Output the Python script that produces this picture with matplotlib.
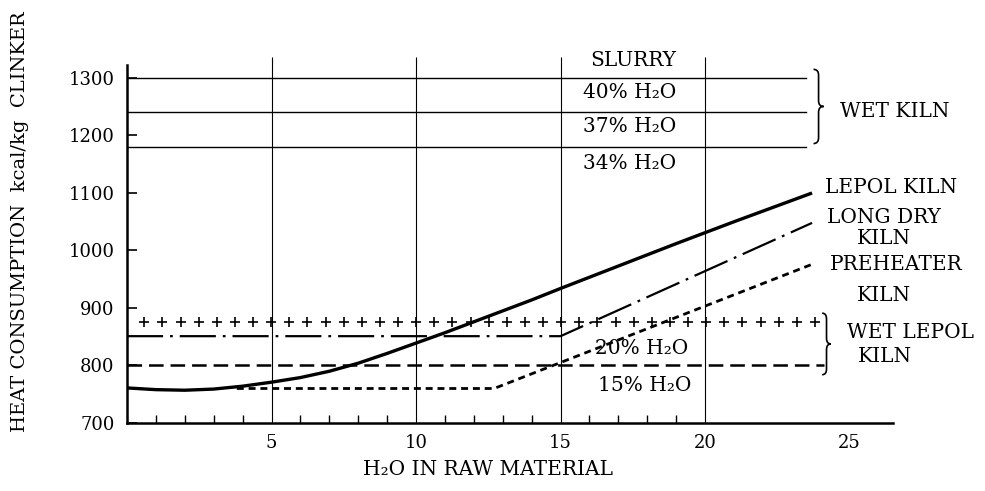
import numpy as np
import matplotlib
matplotlib.use('Agg')
import matplotlib.pyplot as plt
from matplotlib.path import Path
from matplotlib.patches import PathPatch

plt.rcParams['font.family'] = ['DejaVu Serif']
plt.rcParams['lines.scale_dashes'] = False

# wet kiln (slurry) levels
wet_kiln_levels = [1300, 1241, 1180]
wet_kiln_labels = ['40% H₂O', '37% H₂O', '34% H₂O']
wet_kiln_x = [0, 23.5]

# lepol kiln curve
lepol_x = [0, 1, 2, 3, 4, 5, 6, 7, 8, 9, 10, 11, 12, 13, 14, 15, 17, 19, 21, 23.7]
lepol_y = [761, 758, 757, 759, 764, 771, 779, 790, 804, 821, 839, 857, 876, 895, 914, 934, 973, 1012, 1050, 1100]

# long dry kiln
longdry_x = [0, 15, 23.7]
longdry_y = [851, 851, 1048]

# preheater kiln
preheat_x = [3.8, 12.7, 23.7]
preheat_y = [760, 760, 976]

# wet lepol kiln
wetlepol20_x = [0.6, 23.8]
wetlepol20_y = 875
wetlepol15_x = [0, 24.1]
wetlepol15_y = 800

fig = plt.figure(figsize=(9.85, 4.91), dpi=100)
ax = fig.add_axes([0.1289, 0.1385, 0.7777, 0.7495])
ax.set_xlim(0, 26.5)
ax.set_ylim(700, 1340)

for s in ['top', 'right']:
    ax.spines[s].set_visible(False)
ax.spines['left'].set_bounds(700, 1322)
ax.spines['bottom'].set_bounds(0, 26.5)
ax.spines['left'].set_linewidth(1.8)
ax.spines['bottom'].set_linewidth(1.8)

# vertical grid lines
ax.vlines([5, 10, 15, 20], 700, 1337, color='black', lw=0.8)

ax.set_xticks([5, 10, 15, 20, 25])
ax.set_xticks([1, 2, 3, 4, 6, 7, 8, 9, 11, 12, 13, 14, 16, 17, 18, 19], minor=True)
ax.tick_params(axis='x', which='major', length=0, pad=8, labelsize=13)
ax.tick_params(axis='x', which='minor', direction='in', length=6, width=1)
ax.set_yticks([700, 800, 900, 1000, 1100, 1200, 1300])
ax.tick_params(axis='y', direction='in', length=7, width=1.2, pad=9, labelsize=13)

for lvl in wet_kiln_levels:
    ax.plot(wet_kiln_x, [lvl, lvl], color='black', lw=1.0)

ax.plot(lepol_x, lepol_y, color='black', lw=2.4, solid_capstyle='butt')
ax.plot(longdry_x, longdry_y, color='black', lw=1.6, dashes=(26, 5, 2, 5))
ax.plot(preheat_x, preheat_y, color='black', lw=2.0, dashes=(5, 3.5))
ax.plot(wetlepol15_x, [wetlepol15_y] * 2, color='black', lw=1.8, dashes=(10.5, 5))
cross_x = np.linspace(wetlepol20_x[0], wetlepol20_x[1], 38)
ax.plot(cross_x, [wetlepol20_y] * len(cross_x), ls='none', marker='+',
        ms=7.5, mew=1.2, color='black')


def brace(ax, x, y0, y1, w, h):
    ym = (y0 + y1) / 2
    verts = [(x, y1), (x + w / 2, y1), (x + w / 2, y1 - h), (x + w / 2, ym + h),
             (x + w / 2, ym), (x + w, ym), (x + w / 2, ym), (x + w / 2, ym - h),
             (x + w / 2, y0 + h), (x + w / 2, y0), (x, y0)]
    codes = [Path.MOVETO, Path.CURVE3, Path.CURVE3, Path.LINETO, Path.CURVE3,
             Path.CURVE3, Path.CURVE3, Path.CURVE3, Path.LINETO, Path.CURVE3, Path.CURVE3]
    ax.add_patch(PathPatch(Path(verts, codes), fill=False, lw=1.2, clip_on=False))


brace(ax, 23.75, 1186, 1315, 0.35, 10)
brace(ax, 24.05, 784, 891, 0.3, 10)

fs = 14.5
ax.text(17.5, 1331, 'SLURRY', ha='center', va='center', fontsize=fs)
ax.text(17.4, 1274, wet_kiln_labels[0], ha='center', va='center', fontsize=fs)
ax.text(17.4, 1215, wet_kiln_labels[1], ha='center', va='center', fontsize=fs)
ax.text(17.4, 1152, wet_kiln_labels[2], ha='center', va='center', fontsize=fs)
ax.text(24.65, 1241, 'WET KILN', ha='left', va='center', fontsize=fs, clip_on=False)
ax.text(24.15, 1109, 'LEPOL KILN', ha='left', va='center', fontsize=fs, clip_on=False)
ax.text(26.2, 1058, 'LONG DRY', ha='center', va='center', fontsize=fs, clip_on=False)
ax.text(26.2, 1020, 'KILN', ha='center', va='center', fontsize=fs, clip_on=False)
ax.text(26.6, 975, 'PREHEATER', ha='center', va='center', fontsize=fs, clip_on=False)
ax.text(26.2, 922, 'KILN', ha='center', va='center', fontsize=fs, clip_on=False)
ax.text(24.9, 858, 'WET LEPOL', ha='left', va='center', fontsize=fs, clip_on=False)
ax.text(25.3, 815, 'KILN', ha='left', va='center', fontsize=fs, clip_on=False)
ax.text(17.8, 830, '20% H₂O', ha='center', va='center', fontsize=fs)
ax.text(17.9, 766, '15% H₂O', ha='center', va='center', fontsize=fs)

ax.set_xlabel('H₂O IN RAW MATERIAL', fontsize=14.5)
ax.xaxis.set_label_coords(0.471, -0.1)
fig.text(0.0203, 0.548, 'HEAT CONSUMPTION  kcal/kg  CLINKER', rotation=90,
         ha='center', va='center', fontsize=14)

fig.savefig('out.png', dpi=100)
